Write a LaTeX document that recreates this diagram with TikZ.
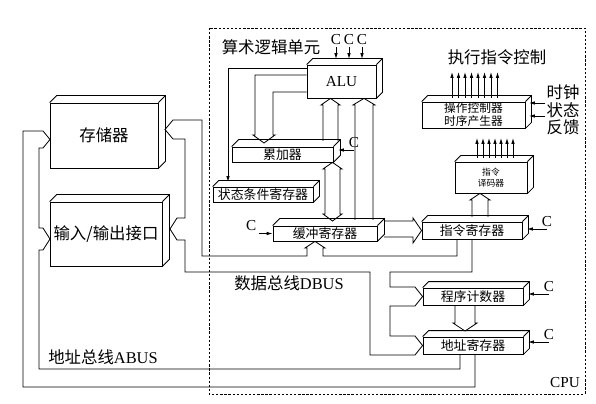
\documentclass[tikz,border=0pt]{standalone}
\usepackage{fontspec}
\setmainfont{Liberation Serif}
\newfontfamily\cjk{Noto Sans CJK SC}
\usetikzlibrary{calc,arrows.meta}

% Quader: Deckfläche und Seitenfläche an einen Knoten
\newcommand{\quader}[2]{%
  \draw (#1.north west) -- ++(#2,-#2) -| ($(#1.south east)+(#2,-#2)$) -- (#1.south east);
  \draw (#1.north east) -- ++(#2,-#2);
}

\begin{document}
\begin{tikzpicture}[x=0.03cm,y=-0.03cm,line width=0.7pt,
    kasten/.style={draw,inner sep=0pt,align=center,font=\cjk\fontsize{11}{12}\selectfont},
    titel/.style={inner sep=0pt,font=\cjk\fontsize{14}{16}\selectfont},
    pfeil/.style={-{Latex[length=5pt,width=3pt]}},
    every label/.style={inner sep=2pt,font=\fontsize{13}{13}\selectfont}]
  \useasboundingbox (0,0) rectangle (596,404);
  % CPU-Rahmen
  \draw[dash pattern=on 2pt off 1.5pt,line width=0.6pt] (209,28) rectangle (585,394);
  \node[font=\fontsize{13}{15}\selectfont] (cpu) at (565,383) {CPU};

  % Kästen
  \node[kasten,font=\cjk\fontsize{14}{16}\selectfont,minimum width=32.4mm,minimum height=19.5mm] (mem) at (104,135.5) {存储器};
  \node[kasten,font=\cjk\fontsize{14}{16}\selectfont,minimum width=33.6mm,minimum height=19.2mm] (io) at (106,234) {输入/输出接口};
  \node[kasten,font=\fontsize{13}{15}\selectfont,minimum width=20.7mm,minimum height=9.9mm] (alu) at (341.5,81.5) {ALU};
  \node[kasten,minimum width=30.3mm,minimum height=4.5mm] (acc) at (282.5,154.5) {累加器};
  \node[kasten,minimum width=30mm,minimum height=4.5mm] (psr) at (263,194.5) {状态条件寄存器};
  \node[kasten,minimum width=31.2mm,minimum height=4.5mm] (buf) at (325,233.5) {缓冲寄存器};
  \node[kasten,minimum width=30mm,minimum height=5.1mm] (ir) at (472,230.5) {指令寄存器};
  \node[kasten,font=\cjk\fontsize{7.5}{9}\selectfont,minimum width=21.6mm,minimum height=9.3mm] (dec) at (491,177.5) {指令\\译码器};
  \node[kasten,font=\cjk\fontsize{10}{11}\selectfont,minimum width=30.9mm,minimum height=7.8mm] (ctl) at (473.5,115) {操作控制器\\时序产生器};
  \node[kasten,minimum width=30mm,minimum height=5.1mm] (pc) at (473,296.5) {程序计数器};
  \node[kasten,minimum width=30mm,minimum height=5.1mm] (ar) at (473,345.5) {地址寄存器};
  \quader{mem}{7} \quader{io}{7} \quader{alu}{6} \quader{acc}{7} \quader{psr}{6} \quader{buf}{7}
  \quader{ir}{6} \quader{dec}{6} \quader{ctl}{6} \quader{pc}{6} \quader{ar}{6}

  % Beschriftungen
  \node[titel] (alutitel) at (271,47) {算术逻辑单元};
  \node[titel] (steuer) at (497,57) {执行指令控制};
  \node[titel] (takt) at (563,92) {时钟};
  \node[titel] (zust) at (563,110) {状态};
  \node[titel] (rueck) at (563,127) {反馈};
  \node[titel,font=\fontsize{14}{16}\selectfont] (dbus) at (289,283) {{\cjk 数据总线}DBUS};
  \node[titel,font=\fontsize{14}{16}\selectfont] (abus) at (103,357) {{\cjk 地址总线}ABUS};

  % Steuersignale C
  \foreach \x/\n in {336/1,349/2,362/3}{
    \coordinate[label=above:C] (c\n) at (\x,47);
    \draw[pfeil] (c\n) -- (\x,59);
  }
  \coordinate[label=above:C] (cacc) at (354,150);
  \draw[pfeil] (cacc) -- (338,150);
  \coordinate[label=above left:C] (cbuf) at (259,233.5);
  \draw[pfeil] (cbuf) -- (buf.west);
  \coordinate[label=above:C] (cir) at (547,229);
  \draw[pfeil] (cir) -- (527,229);
  \coordinate[label=above:C] (cpc) at (549,294);
  \draw[pfeil] (cpc) -- (528,294);
  \coordinate[label=above:C] (car) at (549,342);
  \draw[pfeil] (car) -- (528,342);
  \draw[pfeil] (545,103) -- (529,103);
  \draw[pfeil] (545,116) -- (529,116);
  \foreach \x in {477,483,...,513} \draw[pfeil] (\x,158) -- (\x,138);
  \foreach \x in {452,458.5,...,498} \draw[pfeil] (\x,98) -- (\x,72);

  % Rechenwerk
  \draw[pfeil] (alu.west |- 0,68) -| (228,182);
  \draw (alu.west |- 0,75) -- (255,75) -- (255,135) -- (253,135) -- (264,143) -- (275,135) -- (273,135) -- (273,92) -- (alu.west |- 0,92);
  \draw (323,141) -- (323,105) -- (321,105) -- (alu.south -| 330.5,0) -- (340,105) -- (338,105) -- (338,141);
  \draw (355,220) -- (355,105) -- (353,105) -- (alu.south -| 364,0) -- (375,105) -- (373,105) -- (373,220);
  \draw (325,169) -- (323,169) -- (acc.south -| 332.5,0) -- (342,169) -- (340,169) -- (340,214) -- (342,214) -- (332.5,221) -- (323,214) -- (325,214) -- cycle;

  % Steuerwerk
  \draw (384,221) -- (413,221) -- (413,218) -- (ir.west) -- (413,243) -- (413,237) -- (384,237);
  \draw (472,217) -- (472,200) -- (470,200) -- (dec.south -| 480,0) -- (490,200) -- (488,200) -- (488,217);
  \draw (pc.south -| 455,0) -- (455,323) -- (453,323) -- (465,331) -- (477,323) -- (475,323) -- (pc.south -| 475,0);

  % Datenbus
  \draw (173,139) -- (165,129.5) -- (173,120) -- (202,120) -- (202,256) -- (307,256) -- (307,248) -- (305,248) -- (buf.south -| 315,0) -- (325,248) -- (323,248) -- (323,256) -- (457,256) -- (ir.south -| 457,0);
  \draw (173,139) -- (185,139) -- (185,218) -- (177,218) -- (170,229) -- (177,240) -- (185,240) -- (185,272) -- (370,272) -- (370,355) -- (415,355) -- (ar.west) -- (415,336) -- (390,336) -- (390,306) -- (415,306) -- (pc.west) -- (415,287) -- (390,287) -- (390,272) -- (472,272) -- (ir.south -| 472,0);

  % Adressbus
  \draw (ar.south -| 475,0) -- (475,387) -- (23,387) -- (23,131) -- (43,131) -- (50,139.5) -- (43,148) -- (39,148) -- (39,228) -- (43,228) -- (50,239) -- (43,250) -- (39,250) -- (39,369) -- (460,369) -- (ar.south -| 460,0);
\end{tikzpicture}
\end{document}
